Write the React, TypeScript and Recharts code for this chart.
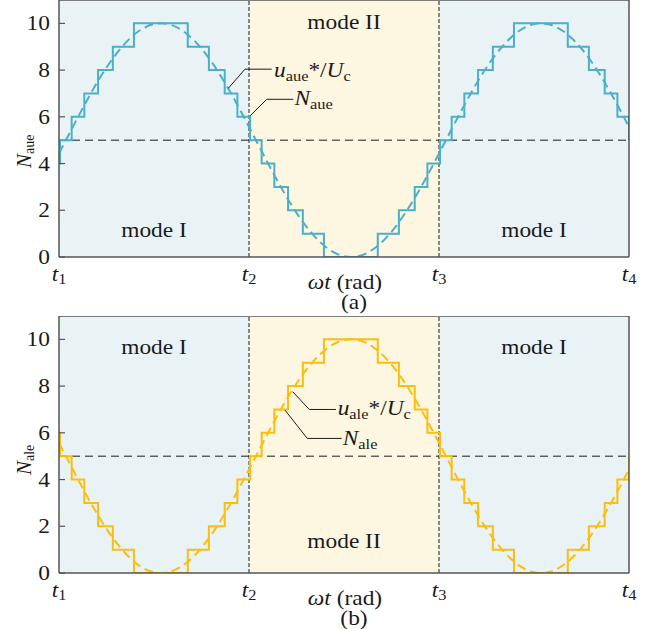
import React from 'react';
import {
  LineChart,
  Line,
  XAxis,
  YAxis,
  ReferenceArea,
  ReferenceLine,
  ReferenceDot,
} from 'recharts';

// ---------- values ----------

// ωt axis (deg), t1..t4 sit every half period
const T_TICKS = [0, 180, 360, 540];
const T_NAMES = ['1', '2', '3', '4'];
const Y_TICKS = [0, 2, 4, 6, 8, 10];

// mode bands
const MODE_EDGES = [0, 180, 360, 540];
const MODE_NAMES = ['mode I', 'mode II', 'mode I'];

// sample points of the dashed references
const REF_ANGLES = [
  0, 15, 30, 45, 60, 75, 90, 105, 120, 135, 150, 165, 180, 195, 210, 225, 240, 255, 270,
  285, 300, 315, 330, 345, 360, 375, 390, 405, 420, 435, 450, 465, 480, 495, 510, 525, 540,
];
const AUE_REF = [
  4.43, 5.73, 6.99, 8.11, 9.01, 9.65, 9.97, 9.95, 9.59, 8.92, 7.98, 6.84, 5.57, 4.27, 3.01,
  1.89, 0.99, 0.35, 0.03, 0.05, 0.41, 1.08, 2.02, 3.16, 4.43, 5.73, 6.99, 8.11, 9.01, 9.65,
  9.97, 9.95, 9.59, 8.92, 7.98, 6.84, 5.57,
];
const ALE_REF = [
  5.57, 4.27, 3.01, 1.89, 0.99, 0.35, 0.03, 0.05, 0.41, 1.08, 2.02, 3.16, 4.43, 5.73, 6.99,
  8.11, 9.01, 9.65, 9.97, 9.95, 9.59, 8.92, 7.98, 6.84, 5.57, 4.27, 3.01, 1.89, 0.99, 0.35,
  0.03, 0.05, 0.41, 1.08, 2.02, 3.16, 4.43,
];

// switching instants (deg) and inserted module counts
const STEP_ANGLES = [
  0, 1, 12, 24, 37, 51, 71, 122, 142, 157, 169, 181, 192, 204, 217, 231, 251, 302, 322, 337,
  349, 361, 372, 384, 397, 411, 431, 482, 502, 517, 529, 540,
];
const AUE_LEVELS = [
  4, 5, 6, 7, 8, 9, 10, 9, 8, 7, 6, 5, 4, 3, 2, 1, 0, 1, 2, 3, 4, 5, 6, 7, 8, 9, 10, 9, 8, 7, 6, 5,
];
const ALE_LEVELS = [
  6, 5, 4, 3, 2, 1, 0, 1, 2, 3, 4, 5, 6, 7, 8, 9, 10, 9, 8, 7, 6, 5, 4, 3, 2, 1, 0, 1, 2, 3, 4, 5,
];

// ---------- styling ----------
const BLUE = '#4aafc8';
const YELLOW = '#fbbd0e';
const MODE_BG = ['#e9f3f6', '#fdf6e1', '#e9f3f6'];
const AXIS = '#555';
const INK = '#1a1a1a';
const FONT = '"Liberation Serif", "Times New Roman", serif';
const SX = 1.17; // the original figure is a bit stretched sideways
const Y_MARGIN = 9;

function SText({ x, y, anchor = 'start', size = 20, children }: any) {
  return (
    <g transform={`translate(${x},${y}) scale(${SX},1)`}>
      <text x={0} y={0} textAnchor={anchor} fontFamily={FONT} fontSize={size} fill={INK}>
        {children}
      </text>
    </g>
  );
}

const YTick = ({ x, y, payload }: any) => {
  const ax = x + Y_MARGIN;
  return (
    <g>
      <line x1={ax} x2={ax + 6} y1={y} y2={y} stroke={AXIS} strokeWidth={1.2} />
      <SText x={x} y={y + 7} anchor="end">
        {payload.value}
      </SText>
    </g>
  );
};

const RTick = ({ x, y }: any) => (
  <line x1={x - 6} x2={x} y1={y} y2={y} stroke={AXIS} strokeWidth={1.2} />
);

const TTick = ({ x, y, payload }: any) => (
  <SText x={x} y={y + 22} anchor="middle">
    <tspan fontStyle="italic">t</tspan>
    <tspan fontSize={14} dy={3}>
      {T_NAMES[T_TICKS.indexOf(payload.value)]}
    </tspan>
  </SText>
);

interface PanelProps {
  color: string;
  refVals: number[];
  levels: number[];
  sub: string;
  tag: string;
  height: number;
  bottom: number;
  modeY: number[];
  yLabelLift: number;
  uLeader: number[][];
  uText: number[];
  nLeader: number[][];
  nText: number[];
}

function Panel(p: PanelProps) {
  const refData = REF_ANGLES.map((a, i) => ({ wt: a, v: p.refVals[i] }));
  const stepData = STEP_ANGLES.map((a, i) => ({ wt: a, v: p.levels[i] }));

  const xLabel = (props: any) => {
    const vb = props.viewBox;
    const cx = vb.x + vb.width / 2;
    return (
      <g>
        <SText x={cx + 1} y={vb.y + 32} anchor="middle">
          <tspan fontStyle="italic">ωt</tspan> (rad)
        </SText>
        <SText x={cx + 10} y={vb.y + 52} anchor="middle">
          {p.tag}
        </SText>
      </g>
    );
  };

  const yLabel = (props: any) => {
    const vb = props.viewBox;
    const bx = 31;
    const by = vb.y + vb.height - p.yLabelLift;
    return (
      <text
        transform={`translate(${bx},${by}) rotate(-90)`}
        fontFamily={FONT}
        fontSize={21}
        fill={INK}
      >
        <tspan fontStyle="italic">N</tspan>
        <tspan fontSize={14} dy={3}>
          {p.sub}
        </tspan>
      </text>
    );
  };

  const seg = (pts: number[][]) =>
    pts.slice(1).map((q, i) => (
      <ReferenceLine
        key={`seg-${i}`}
        segment={[
          { x: pts[i][0], y: pts[i][1] },
          { x: q[0], y: q[1] },
        ]}
        stroke={INK}
        strokeWidth={1}
      />
    ));

  return (
    <LineChart
      width={651}
      height={p.height}
      margin={{ top: 0, right: 21, left: 0, bottom: p.bottom }}
    >
      <XAxis
        type="number"
        dataKey="wt"
        domain={[0, 540]}
        ticks={T_TICKS}
        tick={<TTick />}
        tickLine={false}
        tickSize={0}
        height={30}
        axisLine={{ stroke: AXIS, strokeWidth: 1.5 }}
        label={xLabel}
        allowDataOverflow
      />
      <YAxis
        domain={[0, 11]}
        ticks={Y_TICKS}
        width={59}
        tick={<YTick />}
        tickLine={false}
        tickSize={0}
        tickMargin={Y_MARGIN}
        axisLine={{ stroke: AXIS, strokeWidth: 1.5 }}
        label={yLabel}
        allowDataOverflow
      />
      <YAxis
        yAxisId="r"
        orientation="right"
        domain={[0, 11]}
        ticks={Y_TICKS}
        width={1}
        tick={<RTick />}
        tickLine={false}
        tickSize={0}
        tickMargin={0}
        axisLine={{ stroke: AXIS, strokeWidth: 1.5 }}
      />

      {MODE_NAMES.map((_, i) => (
        <ReferenceArea
          key={`band-${i}`}
          x1={MODE_EDGES[i]}
          x2={MODE_EDGES[i + 1]}
          y1={0}
          y2={11}
          fill={MODE_BG[i]}
          fillOpacity={1}
          stroke="none"
        />
      ))}
      <ReferenceLine y={11} stroke={AXIS} strokeWidth={1.5} />
      <ReferenceLine y={5} stroke={INK} strokeWidth={1} strokeDasharray="8 5" />
      <ReferenceLine x={180} stroke={INK} strokeWidth={1} strokeDasharray="4 2" />
      <ReferenceLine x={360} stroke={INK} strokeWidth={1} strokeDasharray="4 2" />

      <Line
        data={refData}
        dataKey="v"
        type="natural"
        stroke={p.color}
        strokeWidth={2}
        strokeDasharray="9 5"
        dot={false}
        isAnimationActive={false}
      />
      <Line
        data={stepData}
        dataKey="v"
        type="stepAfter"
        stroke={p.color}
        strokeWidth={2}
        dot={false}
        isAnimationActive={false}
      />

      {seg(p.uLeader)}
      {seg(p.nLeader)}

      {MODE_NAMES.map((name, i) => (
        <ReferenceDot
          key={`mode-${i}`}
          x={(MODE_EDGES[i] + MODE_EDGES[i + 1]) / 2}
          y={p.modeY[i]}
          r={0}
          shape={(s: any) => (
            <SText x={s.cx} y={s.cy + 7} anchor="middle">
              {name}
            </SText>
          )}
        />
      ))}
      <ReferenceDot
        x={p.uText[0]}
        y={p.uText[1]}
        r={0}
        shape={(s: any) => (
          <SText x={s.cx} y={s.cy}>
            <tspan fontStyle="italic">u</tspan>
            <tspan fontSize={14} dy={4}>
              {p.sub}
            </tspan>
            <tspan dy={-4}>*/</tspan>
            <tspan fontStyle="italic">U</tspan>
            <tspan fontSize={14} dy={4}>
              c
            </tspan>
          </SText>
        )}
      />
      <ReferenceDot
        x={p.nText[0]}
        y={p.nText[1]}
        r={0}
        shape={(s: any) => (
          <SText x={s.cx} y={s.cy}>
            <tspan fontStyle="italic">N</tspan>
            <tspan fontSize={14} dy={4}>
              {p.sub}
            </tspan>
          </SText>
        )}
      />
    </LineChart>
  );
}

export default function App() {
  return (
    <div
      style={{
        position: 'fixed',
        left: 0,
        top: 0,
        width: 651,
        height: 629,
        overflow: 'hidden',
        background: '#fff',
      }}
    >
      <div style={{ position: 'absolute', left: 0, top: 0 }}>
        <Panel
          color={BLUE}
          refVals={AUE_REF}
          levels={AUE_LEVELS}
          sub="aue"
          tag="(a)"
          height={316}
          bottom={29}
          modeY={[1.15, 10.05, 1.15]}
          yLabelLift={89}
          uLeader={[
            [160.4, 7.22],
            [176.2, 8.04],
            [201.5, 8.04],
          ]}
          uText={[203.7, 7.72]}
          nLeader={[
            [181, 6.04],
            [196.8, 6.75],
            [222, 6.75],
          ]}
          nText={[223, 6.5]}
        />
      </div>
      <div style={{ position: 'absolute', left: 0, top: 316 }}>
        <Panel
          color={YELLOW}
          refVals={ALE_REF}
          levels={ALE_LEVELS}
          sub="ale"
          tag="(b)"
          height={313}
          bottom={26}
          modeY={[9.68, 1.37, 9.68]}
          yLabelLift={98}
          uLeader={[
            [221.4, 7.76],
            [237.1, 7.0],
            [262.4, 7.0],
          ]}
          uText={[264, 6.76]}
          nLeader={[
            [214.1, 6.97],
            [235.2, 5.76],
            [267.8, 5.76],
          ]}
          nText={[268.8, 5.48]}
        />
      </div>
    </div>
  );
}
